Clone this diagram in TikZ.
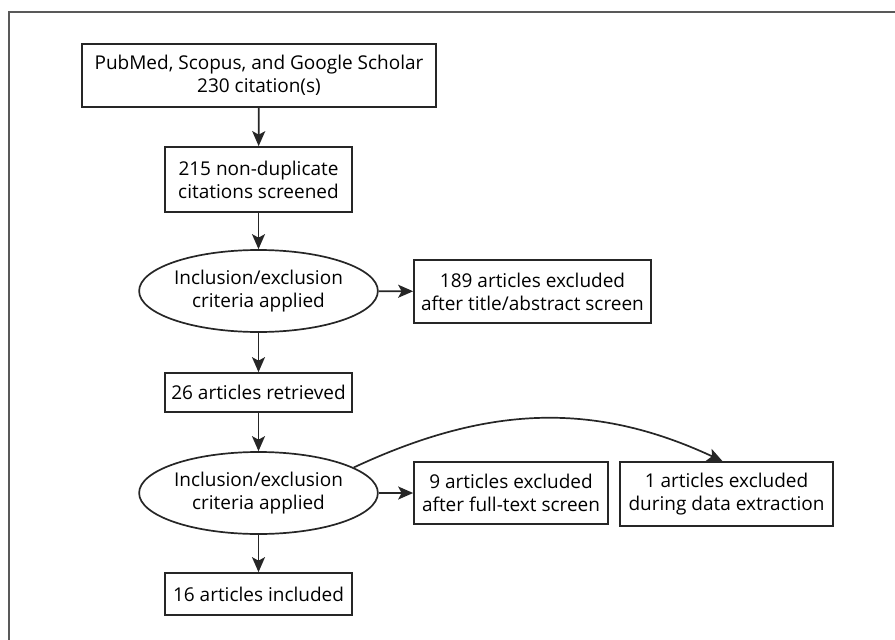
\documentclass[tikz,border=0pt]{standalone}
\usepackage{fontspec}
\setmainfont{Open Sans}
\usepackage{xcolor}
\colorlet{colLine}{black!85}
\colorlet{colFrame}{black!65}
\usetikzlibrary{arrows.meta, positioning, shapes.geometric}

\tikzset{
  stepbox/.style={draw=colLine, line width=1.7pt, align=center, inner sep=2pt, font=\fontsize{19}{23}\selectfont},
  critnode/.style={ellipse, draw=colLine, line width=1.7pt, align=center, inner sep=0pt, minimum width=231pt, minimum height=82pt, font=\fontsize{19}{23}\selectfont},
  flow/.style={draw=colLine, line width=1.7pt, -{Stealth[length=15pt, width=13pt, inset=3.5pt]}}
}

\begin{document}
\begin{tikzpicture}[x=1pt, y=-1pt]
				\useasboundingbox (0,0) rectangle (895,640);
				\draw[colFrame, line width=1.6pt] (9,640) -- (9,12) -- (895,12);
				\node[stepbox, minimum width=354pt, minimum height=63pt] (src) at (259,75.5) {PubMed, Scopus, and Google Scholar\\230 citation(s)};
				\node[stepbox, minimum width=187pt, minimum height=65pt] (dedup) at (258.5,179.5) {215 non-duplicate\\citations screened};
				\node[critnode] (crit1) at (258.5,291) {Inclusion/exclusion\\criteria applied};
				\node[stepbox, minimum width=237pt, minimum height=63pt] (excl1) at (532.5,291.5) {189 articles excluded\\after title/abstract screen};
				\node[stepbox, minimum width=187pt, minimum height=39pt] (retr) at (258.5,392.5) {26 articles retrieved};
				\node[critnode] (crit2) at (258.5,493) {Inclusion/exclusion\\criteria applied};
				\node[stepbox, minimum width=194pt, minimum height=62pt] (excl2) at (511,493) {9 articles excluded\\after full-text screen};
				\node[stepbox, minimum width=213pt, minimum height=64pt] (excl3) at (726.5,494) {1 articles excluded\\during data extraction};
				\node[stepbox, minimum width=187pt, minimum height=42pt] (incl) at (258.5,594) {16 articles included};
				\draw[flow] (src) -- (dedup);
				\draw[flow] (dedup) -- (crit1);
				\draw[flow] (crit1) -- (excl1);
				\draw[flow] (crit1) -- (retr);
				\draw[flow] (retr) -- (crit2);
				\draw[flow] (crit2) -- (excl2);
				\draw[flow] (crit2) -- (incl);
				\draw[flow] (crit2.15) to[out=25, in=155] ([xshift=-4pt]excl3.north);
			\end{tikzpicture}
\end{document}
